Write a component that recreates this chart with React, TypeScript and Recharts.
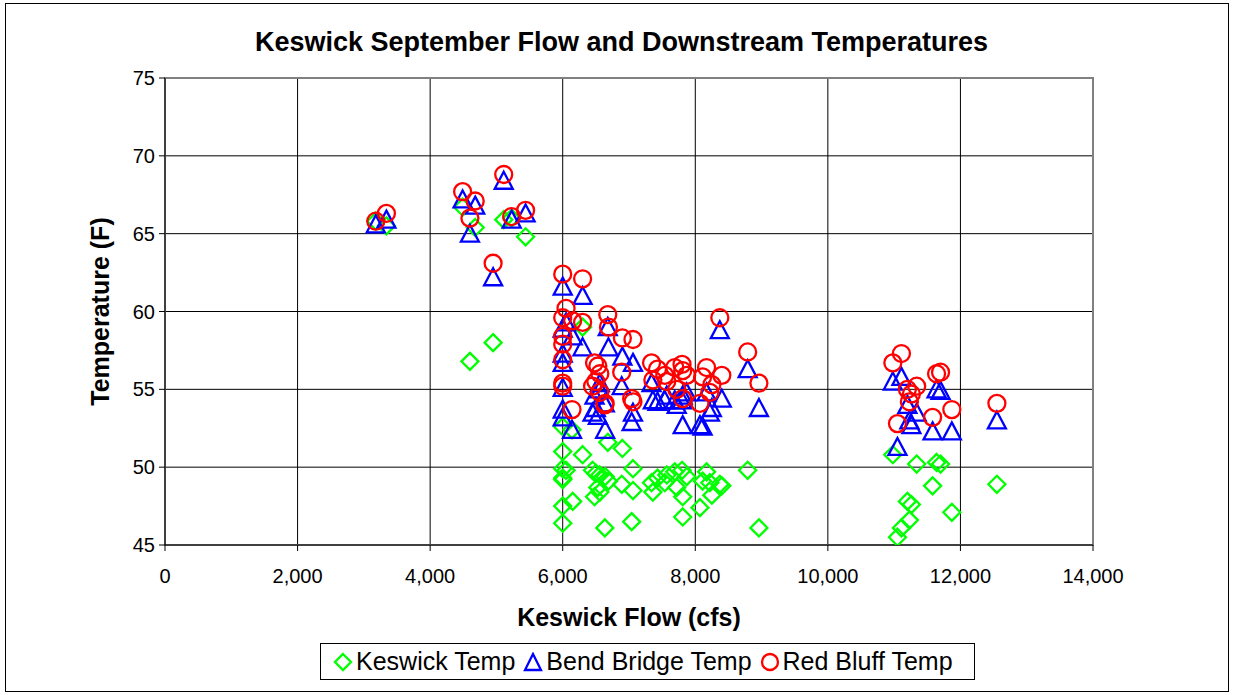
import React from 'react';
import { ScatterChart, Scatter, XAxis, YAxis, CartesianGrid, ReferenceArea } from 'recharts';

// Keswick release (cfs) with matching downstream temperatures (F)
const flows = [
  3180, 3340, 4490, 4600, 4680, 4950, 5110, 5230, 5440,
  6000, 6000, 6050, 6000, 6000, 6000, 6000, 6000, 6140, 6150, 6300, 6300,
  6450, 6480, 6530, 6560, 6560, 6500, 6640, 6635, 6680, 6690, 6890, 6900,
  7040, 7060, 7060, 7340, 7360, 7430, 7540, 7570, 7690, 7720, 7800, 7810, 7810, 7870,
  8070, 8110, 8170, 8220, 8250, 8370, 8400, 8790, 8960,
  10980, 11050, 11110, 11200, 11230, 11260, 11340, 11580, 11640, 11700, 11870, 12550,
];
const keswickTemp = [
  65.8, 65.5, 66.7, 56.8, 65.4, 58.0, 65.9, 66.0, 64.8,
  52.6, 51.0, 49.8, 49.2, 47.5, 46.4, 49.9, 49.3, 52.4, 47.8, 50.8, 59.0,
  49.8, 48.1, 48.7, 49.5, 48.4, 49.6, 49.4, 46.1, 51.6, 49.1, 48.9, 51.2,
  46.5, 49.9, 48.5, 49.0, 48.4, 49.3, 49.0, 49.5, 49.7, 48.7, 49.8, 48.1, 46.8, 49.4,
  47.4, 49.1, 49.7, 49.0, 48.2, 48.9, 48.8, 49.8, 46.1,
  50.8, 45.5, 46.1, 47.8, 46.6, 47.6, 50.2, 48.8, 50.3, 50.2, 47.1, 48.9,
];
const bendBridgeTemp = [
  65.6, 65.9, 67.2, 65.0, 66.8, 62.2, 68.4, 65.9, 66.3,
  61.6, 58.9, 59.3, 57.3, 56.7, 55.1, 53.7, 53.2, 52.4, 58.4, 61.0, 57.7,
  53.5, 54.6, 53.3, 55.4, 55.0, 53.8, 52.4, 54.1, 59.0, 57.7, 55.2, 57.1,
  52.9, 56.7, 53.5, 55.4, 54.3, 54.2, 54.3, 54.6, 54.3, 54.0, 54.3, 52.7, 54.6, 54.8,
  52.7, 52.6, 54.8, 53.5, 53.8, 58.8, 54.4, 56.3, 53.8,
  55.5, 51.3, 55.8, 54.0, 53.0, 52.7, 53.5, 52.3, 55.0, 54.9, 52.3, 53.0,
];
const redBluffTemp = [
  65.8, 66.3, 67.7, 66.0, 67.1, 63.1, 68.8, 66.1, 66.5,
  62.4, 59.6, 60.2, 58.4, 57.9, 56.9, 55.4, 55.2, 53.7, 59.4, 62.1, 59.3,
  55.2, 56.7, 56.5, 54.8, 56.0, 55.5, 54.1, 54.0, 59.8, 59.0, 56.1, 58.3,
  54.4, 58.2, 54.2, 56.7, 55.6, 56.3, 55.9, 55.5, 56.4, 55.0, 56.6, 54.4, 56.2, 55.9,
  54.1, 55.8, 56.4, 54.8, 55.3, 59.6, 55.9, 57.4, 55.4,
  56.7, 52.8, 57.3, 55.0, 54.2, 54.7, 55.2, 53.2, 56.0, 56.1, 53.7, 54.1,
];
const xTicks = [0, 2000, 4000, 6000, 8000, 10000, 12000, 14000];
const yTicks = [45, 50, 55, 60, 65, 70, 75];

const GREEN = '#00FF00';
const BLUE = '#0000FF';
const RED = '#FF0000';
const FONT = 'Arial, "Liberation Sans", sans-serif';

const toPoints = (temps: number[]) => flows.map((f, i) => ({ flow: f, temp: temps[i] }));

const Diamond = (props: any) => {
  const { cx, cy } = props;
  const r = 8.5;
  return <path d={`M${cx},${cy - r}L${cx + r},${cy}L${cx},${cy + r}L${cx - r},${cy}Z`} fill="none" stroke={GREEN} strokeWidth={2.3} />;
};

const Triangle = (props: any) => {
  const { cx, cy } = props;
  return <path d={`M${cx},${cy - 9}L${cx + 9},${cy + 8}L${cx - 9},${cy + 8}Z`} fill="none" stroke={BLUE} strokeWidth={2.3} />;
};

const Ring = (props: any) => {
  const { cx, cy } = props;
  return <circle cx={cx} cy={cy} r={8.5} fill="none" stroke={RED} strokeWidth={2.3} />;
};

const fmt = (v: number) => v.toLocaleString('en-US');

const legendItems = [
  { name: 'Keswick Temp', icon: <path d="M10,2L18,10L10,18L2,10Z" fill="none" stroke={GREEN} strokeWidth={2.3} /> },
  { name: 'Bend Bridge Temp', icon: <path d="M10,2L18,18L2,18Z" fill="none" stroke={BLUE} strokeWidth={2.3} /> },
  { name: 'Red Bluff Temp', icon: <circle cx={10} cy={10} r={8} fill="none" stroke={RED} strokeWidth={2.3} /> },
];

export default function App() {
  return (
    <div style={{ position: 'absolute', left: 0, top: 0, width: 1233, height: 695, background: '#fff', fontFamily: FONT }}>
      <div style={{ position: 'absolute', left: 5, top: 3, width: 1222, height: 687, border: '1px solid #000' }} />
      <div style={{ position: 'absolute', left: 0, top: 27, width: 1243, textAlign: 'center', fontWeight: 'bold', fontSize: 27, whiteSpace: 'nowrap' }}>
        Keswick September Flow and Downstream Temperatures
      </div>
      <ScatterChart width={1233} height={695} margin={{ top: 78, right: 140, bottom: 110, left: 100 }} style={{ position: 'absolute', left: 0, top: 0 }}>
        <CartesianGrid stroke="#000" strokeWidth={1} />
        <ReferenceArea x1={0} x2={14000} y1={45} y2={75} fill="none" stroke="#808080" strokeWidth={2} />
        <XAxis
          type="number"
          dataKey="flow"
          domain={[0, 14000]}
          ticks={xTicks}
          tickFormatter={fmt}
          height={40}
          tickSize={6}
          tickMargin={18}
          stroke="#000"
          tick={{ fill: '#000', fontSize: 20, fontFamily: FONT }}
          allowDataOverflow
        />
        <YAxis
          type="number"
          dataKey="temp"
          domain={[45, 75]}
          ticks={yTicks}
          width={65}
          tickSize={6}
          tickMargin={4}
          stroke="#000"
          tick={{ fill: '#000', fontSize: 20, fontFamily: FONT }}
          allowDataOverflow
        />
        <Scatter name="Keswick Temp" data={toPoints(keswickTemp)} shape={Diamond} isAnimationActive={false} />
        <Scatter name="Bend Bridge Temp" data={toPoints(bendBridgeTemp)} shape={Triangle} isAnimationActive={false} />
        <Scatter name="Red Bluff Temp" data={toPoints(redBluffTemp)} shape={Ring} isAnimationActive={false} />
      </ScatterChart>
      <div style={{ position: 'absolute', left: 0, top: 603, width: 1258, textAlign: 'center', fontWeight: 'bold', fontSize: 25 }}>
        Keswick Flow (cfs)
      </div>
      <div style={{ position: 'absolute', left: 100, top: 311, width: 0, height: 0 }}>
        <div style={{ position: 'absolute', left: -150, top: -14, width: 300, textAlign: 'center', fontWeight: 'bold', fontSize: 25, transform: 'rotate(-90deg)', whiteSpace: 'nowrap' }}>
          Temperature (F)
        </div>
      </div>
      <div style={{ position: 'absolute', left: 320, top: 643, width: 655, height: 37, border: '1px solid #000', boxSizing: 'border-box', display: 'flex', alignItems: 'center', paddingLeft: 12, fontSize: 25, whiteSpace: 'nowrap' }}>
        {legendItems.map((it) => (
          <div key={it.name} style={{ display: 'flex', alignItems: 'center', marginRight: 8 }}>
            <svg width={20} height={20} style={{ marginRight: 3 }}>{it.icon}</svg>
            <span>{it.name}</span>
          </div>
        ))}
      </div>
    </div>
  );
}
